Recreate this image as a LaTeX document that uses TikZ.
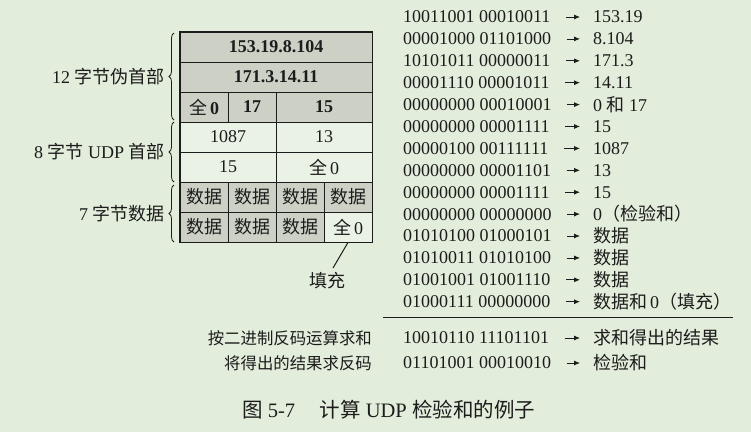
\documentclass[tikz,border=0pt]{standalone}
\usepackage{fontspec}
\setmainfont{Liberation Serif}
\newfontfamily\cjk{Noto Sans CJK SC}
\newcommand\zh[1]{{\cjk\mdseries #1}}
\newcommand\corpo{\fontsize{18}{21}\selectfont}
\usetikzlibrary{decorations.pathreplacing,arrows.meta}
\definecolor{sfondo}{RGB}{227,237,219}
\definecolor{grigio}{RGB}{205,209,197}
\definecolor{chiaro}{RGB}{234,242,229}
\definecolor{testo}{RGB}{28,28,28}
\tikzset{
  cella/.style={draw=testo, fill=grigio, line width=0.8pt, minimum width=#1, minimum height=30pt, inner sep=0pt, text=testo, font=\corpo\bfseries},
  bianca/.style={cella=#1, fill=chiaro, font=\corpo},
  riga/.style={anchor=west, inner sep=0pt, text=testo},
  graffa/.style={decorate, decoration={brace, amplitude=5pt}, testo, line width=0.8pt},
  freccia/.style={-{Latex[length=6pt,width=5pt]}, testo, line width=0.8pt, shorten <=15.5pt, shorten >=13pt}
}
\begin{document}
\begin{tikzpicture}[x=1pt,y=-1pt,font=\corpo]
  \useasboundingbox (0,0) rectangle (751,432);
  \fill[sfondo] (0,0) rectangle (751,432);
  %pseudo header
  \node[cella=192pt] (p1) at (276,47) {153.19.8.104};
  \node[cella=192pt] (p2) at (276,77) {171.3.14.11};
  \node[cella=48pt] (p3) at (204,107) {\zh{全}\,0};
  \node[cella=48pt] (p4) at (252,107) {17};
  \node[cella=96pt] (p5) at (324,107) {15};
  %udp header
  \node[bianca=96pt] (u1) at (228,137) {1087};
  \node[bianca=96pt] (u2) at (324,137) {13};
  \node[bianca=96pt] (u3) at (228,167) {15};
  \node[bianca=96pt] (u4) at (324,167) {\zh{全}\,0};
  %dati
  \foreach \x [count=\i] in {204,252,300,348}
    \node[cella=48pt] (d\i) at (\x,197) {\zh{数据}};
  \foreach \x [count=\i] in {204,252,300}
    \node[cella=48pt] (e\i) at (\x,227) {\zh{数据}};
  \node[bianca=48pt] (e4) at (348,227) {\zh{全}\,0};
  %bordo
  \draw[testo, line width=1.4pt] (p1.north west) rectangle (e4.south east);
  %graffe
  \draw[graffa] (174,120) -- (174,33) node[midway, left=9pt, inner sep=0pt, text=testo] (l1) {12 \zh{字节伪首部}};
  \draw[graffa] (174,182) -- (174,122) node[midway, left=9pt, inner sep=0pt, text=testo] (l2) {8 \zh{字节} UDP \zh{首部}};
  \draw[graffa] (174,242) -- (174,185) node[midway, left=9pt, inner sep=0pt, text=testo] (l3) {7 \zh{字节数据}};
  %riempimento
  \node[text=testo, inner sep=0pt] (tc) at (327,281) {\zh{填充}};
  \coordinate (punta) at (333,268);
  \draw[testo, line width=1pt] (e4.south) -- (punta);
  %somma
  \foreach \b/\v [count=\i from 0] in {
    10011001 00010011/153.19,
    00001000 01101000/8.104,
    10101011 00000011/171.3,
    00001110 00001011/14.11,
    00000000 00010001/0 \zh{和} 17,
    00000000 00001111/15,
    00000100 00111111/1087,
    00000000 00001101/13,
    00000000 00001111/15,
    00000000 00000000/0\zh{（检验和）},
    01010100 01000101/\zh{数据},
    01010011 01010100/\zh{数据},
    01001001 01001110/\zh{数据},
    01000111 00000000/\zh{数据和}\,0\zh{（填充）}}{
    \node[riga] (b\i) at (403,{17+21.9*\i}) {\b};
    \node[riga] (v\i) at (593,{17+21.9*\i}) {\v};
    \draw[freccia] (b\i) -- (v\i);
  }
  \draw[testo, line width=0.9pt] (383,317) -- (733,317);
  %risultato
  \node[riga, anchor=east, font=\fontsize{16.4}{20}\selectfont] (m1) at (372,338) {\zh{按二进制反码运算求和}};
  \node[riga] (s1) at (403,338) {10010110 11101101};
  \node[riga] (t1) at (593,338) {\zh{求和得出的结果}};
  \draw[freccia] (s1) -- (t1);
  %checksum
  \node[riga, anchor=east, font=\fontsize{16.4}{20}\selectfont] (m2) at (372,363) {\zh{将得出的结果求反码}};
  \node[riga] (s2) at (403,363) {01101001 00010010};
  \node[riga] (t2) at (593,363) {\zh{检验和}};
  \draw[freccia] (s2) -- (t2);
  %didascalia
  \node[riga, font=\fontsize{20.5}{24}\selectfont] (cap) at (242,410) {\zh{图} 5-7\hspace{1.2em}\zh{计算} UDP \zh{检验和的例子}};
\end{tikzpicture}
\end{document}
